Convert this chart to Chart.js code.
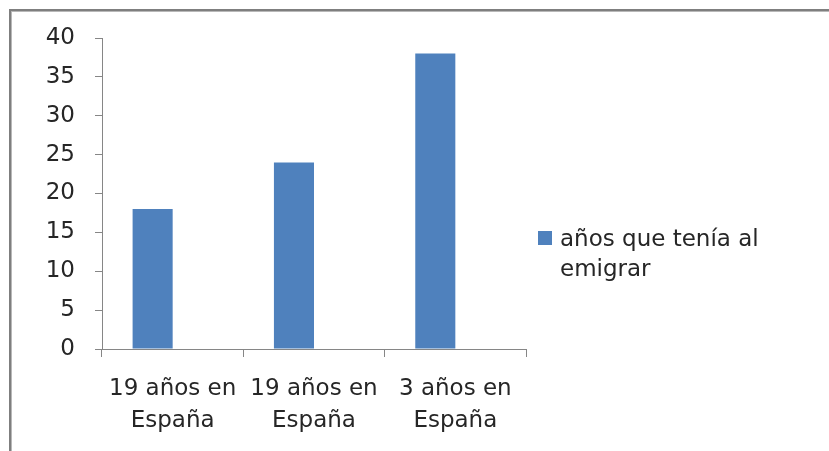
<!DOCTYPE html>
<html>
<head>
<meta charset="utf-8">
<script src="https://cdn.jsdelivr.net/npm/chart.js@4"></script>
<style>
    html, body { margin: 0; padding: 0; background: #fff; }
    #wrap { position: relative; width: 829px; height: 451px; overflow: hidden; }
    #frame {
        position: absolute; left: 9px; top: 9px; width: 900px; height: 500px;
        border-left: 2px solid #7f7f7f; border-top: 2px solid #7f7f7f;
        box-shadow: inset 1px 1px 0 #b8b8b8;
    }
    #legend {
        position: absolute; left: 538px; top: 223px; width: 285px;
        font-family: "DejaVu Sans", sans-serif; font-size: 23px; line-height: 30px; color: #262626;
    }
    #legend .box {
        position: absolute; left: 0; top: 8px; width: 14px; height: 14px; background: #4F81BD;
    }
    #legend .txt { margin-left: 22px; }
    canvas { position: absolute; left: 0; top: 0; }
</style>
</head>
<body>
<div id="wrap">
    <div id="frame"></div>
    <canvas id="chart" width="829" height="451"></canvas>
    <div id="legend"></div>
</div>
<script>
const categories = [['19 años en', 'España'], ['19 años en', 'España'], ['3 años en', 'España']];
const seriesLabel = 'años que tenía al emigrar';
const values = [18, 24, 38];
// the original sheet has an empty second column, bars sit left of the category centre
const emptyValues = [null, null, null];

const axisColor = '#868686';
const textColor = '#262626';
const barColor = '#4F81BD';
const fontFamily = 'DejaVu Sans';

const config = {
    type: 'bar',
    data: {
        labels: categories,
        datasets: [{
            label: seriesLabel,
            data: values,
            backgroundColor: barColor,
            barPercentage: 1.0,
            categoryPercentage: 0.567
        }, {
            label: '',
            data: emptyValues,
            backgroundColor: 'rgba(0,0,0,0)',
            barPercentage: 1.0,
            categoryPercentage: 0.567
        }]
    },
    options: {
        responsive: false,
        animation: false,
        layout: {
            padding: { left: 10, top: 38, right: 303, bottom: 0 }
        },
        plugins: {
            legend: { display: false },
            tooltip: { enabled: false }
        },
        scales: {
            x: {
                grid: {
                    offset: true,
                    drawOnChartArea: false,
                    drawTicks: true,
                    tickLength: 8,
                    color: axisColor
                },
                border: { color: axisColor, width: 1 },
                ticks: {
                    color: textColor,
                    padding: 17,
                    maxRotation: 0,
                    font: { family: fontFamily, size: 23, lineHeight: 1.35 }
                },
                afterFit: (scale) => { scale.height = 102; }
            },
            y: {
                min: 0,
                max: 40,
                grid: {
                    drawOnChartArea: false,
                    drawTicks: true,
                    tickLength: 7,
                    color: axisColor
                },
                border: { color: axisColor, width: 1 },
                ticks: {
                    stepSize: 5,
                    color: textColor,
                    padding: 20,
                    font: { family: fontFamily, size: 23 }
                },
                afterFit: (scale) => { scale.width = 92; }
            }
        }
    }
};

const chart = new Chart(document.getElementById('chart'), config);

// legend on the right, wraps onto two lines like the original
const legend = document.getElementById('legend');
legend.innerHTML = '<div class="box"></div><div class="txt"></div>';
legend.querySelector('.txt').textContent = seriesLabel;
legend.querySelector('.txt').style.width = '240px';
</script>
</body>
</html>
